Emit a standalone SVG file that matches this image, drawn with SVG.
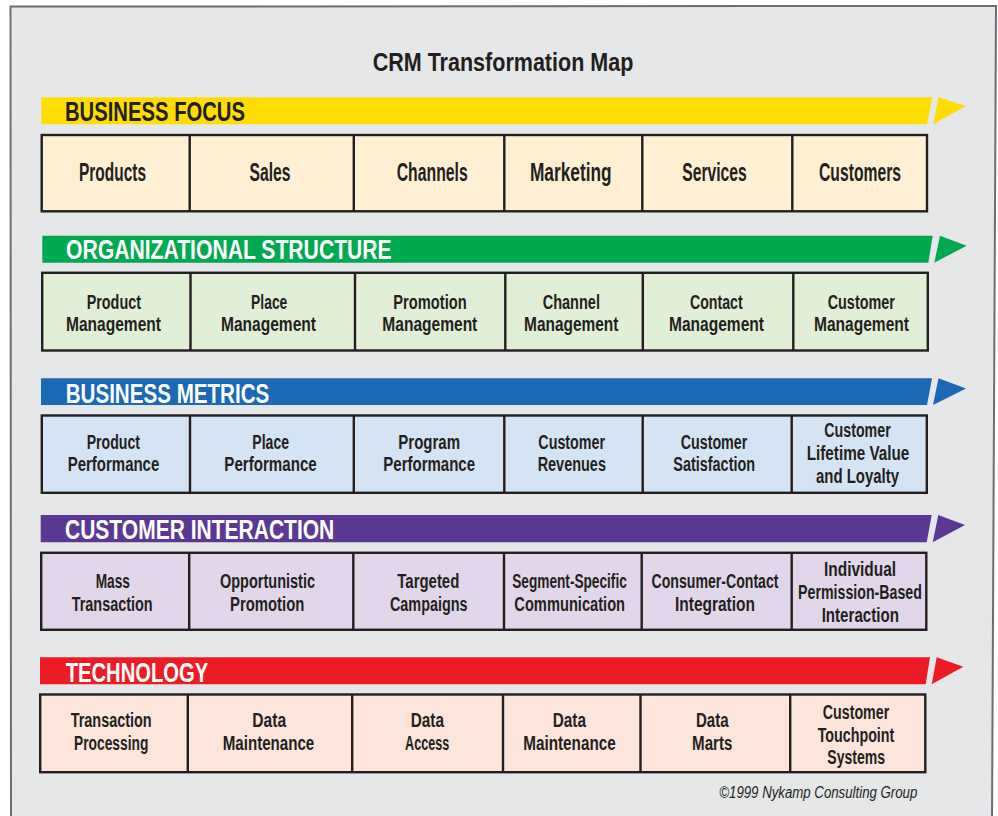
<svg xmlns="http://www.w3.org/2000/svg" width="998" height="816" viewBox="0 0 998 816">
<style>
text{font-family:"Liberation Sans",Arial,sans-serif;fill:#231f20}
.c{text-anchor:middle;font-size:20px;font-weight:bold}
.c1{text-anchor:middle;font-size:25px;font-weight:bold}
.band{font-size:27px;font-weight:bold}
.w{fill:#ffffff}
.box{stroke:#231f20;stroke-width:2.4}
.div{stroke:#231f20;stroke-width:2.4;fill:none}
.r1{fill:#fff0d4}.r2{fill:#e2efd7}.r3{fill:#d4e4f4}.r4{fill:#e2d6ea}.r5{fill:#fde5dc}
.y{fill:#ffdd00}.g{fill:#00a94f}.b{fill:#1b68b4}.p{fill:#5b3893}.rd{fill:#ed1c24}
</style>
<rect x="0" y="0" width="998" height="816" fill="#ffffff"/>
<path d="M10.5,6.5 L996,6 L992,822 L11,822 Z" fill="#e6e7e8" stroke="#6d6e71" stroke-width="2"/>
<text id="title" x="372.7" y="71" font-size="25.5" font-weight="bold" textLength="260.6" lengthAdjust="spacingAndGlyphs">CRM Transformation Map</text>

<g id="connectors"></g>

<!-- Row 1 -->
<g id="band-business-focus">
<polygon class="y" points="41.3,97.3 932.3,97.3 927,124.3 41.3,124.3"/>
<polygon class="y" points="938.3,97.3 966,106 933.3,124.3"/>
<text class="band" x="65" y="120.7" textLength="180" lengthAdjust="spacingAndGlyphs">BUSINESS FOCUS</text>
</g>
<g id="row-business-focus">
<rect class="box r1" x="41.7" y="135" width="885.3" height="76.3"/>
<path class="div" d="M189.7,135V211.3M353.8,135V211.3M504.3,135V211.3M642.3,135V211.3M792.3,135V211.3"/>
</g>
<g id="n-products"><text class="c1" x="112.5" y="180.7" textLength="67" lengthAdjust="spacingAndGlyphs">Products</text></g>
<g id="n-sales"><text class="c1" x="270" y="180.7" textLength="41" lengthAdjust="spacingAndGlyphs">Sales</text></g>
<g id="n-channels"><text class="c1" x="432.2" y="180.7" textLength="71" lengthAdjust="spacingAndGlyphs">Channels</text></g>
<g id="n-marketing"><text class="c1" x="570.8" y="180.7" textLength="81.7" lengthAdjust="spacingAndGlyphs">Marketing</text></g>
<g id="n-services"><text class="c1" x="714.5" y="180.7" textLength="64.4" lengthAdjust="spacingAndGlyphs">Services</text></g>
<g id="n-customers"><text class="c1" x="860" y="180.7" textLength="82" lengthAdjust="spacingAndGlyphs">Customers</text></g>

<!-- Row 2 -->
<g id="band-organizational-structure">
<polygon class="g" points="42.3,235.7 932.7,235.7 928.3,262.7 42.3,262.7"/>
<polygon class="g" points="940,235.7 966.7,245.7 934.3,262.7"/>
<text class="band w" x="66" y="259.3" textLength="325.7" lengthAdjust="spacingAndGlyphs">ORGANIZATIONAL STRUCTURE</text>
</g>
<g id="row-organizational-structure">
<rect class="box r2" x="42.2" y="272.8" width="885.6" height="77.7"/>
<path class="div" d="M190.5,272.8V350.5M355,272.8V350.5M505.3,272.8V350.5M642.8,272.8V350.5M793.3,272.8V350.5"/>
</g>
<g id="n-product-management"><text class="c" x="113.8" y="309" textLength="54.3" lengthAdjust="spacingAndGlyphs">Product</text><text class="c" x="113.5" y="330.5" textLength="95" lengthAdjust="spacingAndGlyphs">Management</text></g>
<g id="n-place-management"><text class="c" x="269.2" y="309" textLength="36.3" lengthAdjust="spacingAndGlyphs">Place</text><text class="c" x="268.5" y="330.5" textLength="95" lengthAdjust="spacingAndGlyphs">Management</text></g>
<g id="n-promotion-management"><text class="c" x="430" y="309" textLength="73.3" lengthAdjust="spacingAndGlyphs">Promotion</text><text class="c" x="429.8" y="330.5" textLength="95" lengthAdjust="spacingAndGlyphs">Management</text></g>
<g id="n-channel-management"><text class="c" x="571.3" y="309" textLength="57.3" lengthAdjust="spacingAndGlyphs">Channel</text><text class="c" x="571.2" y="330.5" textLength="94.3" lengthAdjust="spacingAndGlyphs">Management</text></g>
<g id="n-contact-management"><text class="c" x="716.3" y="309" textLength="52.7" lengthAdjust="spacingAndGlyphs">Contact</text><text class="c" x="716.5" y="330.5" textLength="95" lengthAdjust="spacingAndGlyphs">Management</text></g>
<g id="n-customer-management"><text class="c" x="861.3" y="309" textLength="67.3" lengthAdjust="spacingAndGlyphs">Customer</text><text class="c" x="861.5" y="330.5" textLength="95" lengthAdjust="spacingAndGlyphs">Management</text></g>

<!-- Row 3 -->
<g id="band-business-metrics">
<polygon class="b" points="41,378.3 932,378.3 927,405 41,405"/>
<polygon class="b" points="938.5,378.3 966,388.5 933,405"/>
<text class="band w" x="65.7" y="402.7" textLength="203.6" lengthAdjust="spacingAndGlyphs">BUSINESS METRICS</text>
</g>
<g id="row-business-metrics">
<rect class="box r3" x="41.8" y="415.5" width="885" height="77.3"/>
<path class="div" d="M190,415.5V492.8M353.8,415.5V492.8M504.3,415.5V492.8M642.7,415.5V492.8M791.7,415.5V492.8"/>
</g>
<g id="n-product-performance"><text class="c" x="113.3" y="449" textLength="53.3" lengthAdjust="spacingAndGlyphs">Product</text><text class="c" x="113.5" y="471.3" textLength="91.6" lengthAdjust="spacingAndGlyphs">Performance</text></g>
<g id="n-place-performance"><text class="c" x="270.7" y="449" textLength="36.7" lengthAdjust="spacingAndGlyphs">Place</text><text class="c" x="270.5" y="471.3" textLength="92.4" lengthAdjust="spacingAndGlyphs">Performance</text></g>
<g id="n-program-performance"><text class="c" x="429.2" y="449" textLength="61.7" lengthAdjust="spacingAndGlyphs">Program</text><text class="c" x="429.2" y="471.3" textLength="91.7" lengthAdjust="spacingAndGlyphs">Performance</text></g>
<g id="n-customer-revenues"><text class="c" x="571.7" y="449" textLength="66.7" lengthAdjust="spacingAndGlyphs">Customer</text><text class="c" x="571.8" y="471.3" textLength="68.3" lengthAdjust="spacingAndGlyphs">Revenues</text></g>
<g id="n-customer-satisfaction"><text class="c" x="714" y="449" textLength="66.7" lengthAdjust="spacingAndGlyphs">Customer</text><text class="c" x="714.2" y="471.3" textLength="81.7" lengthAdjust="spacingAndGlyphs">Satisfaction</text></g>
<g id="n-customer-lifetime-value"><text class="c" x="857.5" y="437.3" textLength="66.4" lengthAdjust="spacingAndGlyphs">Customer</text><text class="c" x="858" y="460" textLength="102.6" lengthAdjust="spacingAndGlyphs">Lifetime Value</text><text class="c" x="857.5" y="482.7" textLength="83" lengthAdjust="spacingAndGlyphs">and Loyalty</text></g>

<!-- Row 4 -->
<g id="band-customer-interaction">
<polygon class="p" points="40.7,515 931.7,515 926.7,542.3 40.7,542.3"/>
<polygon class="p" points="938.3,515 965,525 932.7,542.3"/>
<text class="band w" x="65" y="539.3" textLength="269.3" lengthAdjust="spacingAndGlyphs">CUSTOMER INTERACTION</text>
</g>
<g id="row-customer-interaction">
<rect class="box r4" x="41.2" y="552.8" width="885.1" height="77"/>
<path class="div" d="M189.2,552.8V629.8M353.3,552.8V629.8M504,552.8V629.8M641.7,552.8V629.8M791.7,552.8V629.8"/>
</g>
<g id="n-mass-transaction"><text class="c" x="112.8" y="588" textLength="34.3" lengthAdjust="spacingAndGlyphs">Mass</text><text class="c" x="112.2" y="610.5" textLength="81" lengthAdjust="spacingAndGlyphs">Transaction</text></g>
<g id="n-opportunistic-promotion"><text class="c" x="267.5" y="588" textLength="95" lengthAdjust="spacingAndGlyphs">Opportunistic</text><text class="c" x="267.2" y="610.5" textLength="74.3" lengthAdjust="spacingAndGlyphs">Promotion</text></g>
<g id="n-targeted-campaigns"><text class="c" x="428.3" y="588" textLength="62" lengthAdjust="spacingAndGlyphs">Targeted</text><text class="c" x="428.8" y="610.5" textLength="77.7" lengthAdjust="spacingAndGlyphs">Campaigns</text></g>
<g id="n-segment-specific"><text class="c" transform="translate(569.5,588) scale(0.683,1)" x="0" y="0">Segment-Specific</text><text class="c" x="569.7" y="610.5" textLength="110.7" lengthAdjust="spacingAndGlyphs">Communication</text></g>
<g id="n-consumer-contact"><text class="c" transform="translate(715,588) scale(0.706,1)" x="0" y="0">Consumer-Contact</text><text class="c" x="715" y="610.5" textLength="80" lengthAdjust="spacingAndGlyphs">Integration</text></g>
<g id="n-individual-permission"><text class="c" x="860" y="576" textLength="72" lengthAdjust="spacingAndGlyphs">Individual</text><text class="c" transform="translate(860,599) scale(0.71,1)" x="0" y="0">Permission-Based</text><text class="c" x="860.3" y="622" textLength="77.3" lengthAdjust="spacingAndGlyphs">Interaction</text></g>

<!-- Row 5 -->
<g id="band-technology">
<polygon class="rd" points="40,657.3 930,657.3 925.7,684.3 40,684.3"/>
<polygon class="rd" points="936.7,657.3 963.3,666.7 931.7,684.3"/>
<text class="band w" x="65.7" y="681.7" textLength="142.6" lengthAdjust="spacingAndGlyphs">TECHNOLOGY</text>
</g>
<g id="row-technology">
<rect class="box r5" x="40.2" y="694.5" width="885.1" height="77.7"/>
<path class="div" d="M187.8,694.5V772.2M352.2,694.5V772.2M503,694.5V772.2M640.5,694.5V772.2M790.2,694.5V772.2"/>
</g>
<g id="n-transaction-processing"><text class="c" x="111.2" y="727.3" textLength="81" lengthAdjust="spacingAndGlyphs">Transaction</text><text class="c" x="111.2" y="750" textLength="74.3" lengthAdjust="spacingAndGlyphs">Processing</text></g>
<g id="n-data-maintenance-1"><text class="c" x="269.2" y="727.3" textLength="33.7" lengthAdjust="spacingAndGlyphs">Data</text><text class="c" x="268.5" y="750" textLength="91.6" lengthAdjust="spacingAndGlyphs">Maintenance</text></g>
<g id="n-data-access"><text class="c" x="427.3" y="727.3" textLength="33.3" lengthAdjust="spacingAndGlyphs">Data</text><text class="c" x="427.2" y="750" textLength="44.3" lengthAdjust="spacingAndGlyphs">Access</text></g>
<g id="n-data-maintenance-2"><text class="c" x="569.3" y="727.3" textLength="33.3" lengthAdjust="spacingAndGlyphs">Data</text><text class="c" x="569.5" y="750" textLength="92.4" lengthAdjust="spacingAndGlyphs">Maintenance</text></g>
<g id="n-data-marts"><text class="c" x="712.3" y="727.3" textLength="32.7" lengthAdjust="spacingAndGlyphs">Data</text><text class="c" x="712.2" y="750" textLength="40.3" lengthAdjust="spacingAndGlyphs">Marts</text></g>
<g id="n-customer-touchpoint"><text class="c" x="856" y="719" textLength="66.6" lengthAdjust="spacingAndGlyphs">Customer</text><text class="c" x="856" y="741.7" textLength="76.6" lengthAdjust="spacingAndGlyphs">Touchpoint</text><text class="c" x="856.2" y="764.3" textLength="57.7" lengthAdjust="spacingAndGlyphs">Systems</text></g>

<text id="copyright" x="719.3" y="798.3" font-size="16" font-style="italic" textLength="198" lengthAdjust="spacingAndGlyphs">©1999 Nykamp Consulting Group</text>
</svg>
